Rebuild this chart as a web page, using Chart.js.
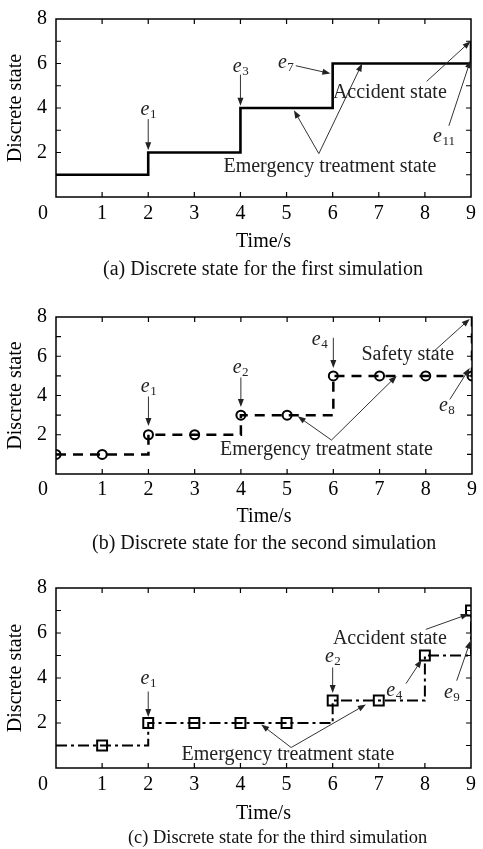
<!DOCTYPE html>
<html>
<head>
<meta charset="utf-8">
<script src="https://cdn.jsdelivr.net/npm/chart.js@4"></script>
<style>
  body { margin: 0; background: #fff; width: 483px; height: 849px; overflow: hidden; position: relative; }
  canvas { position: absolute; left: 0; }
  .cap { position: absolute; font-family: "Liberation Serif", "Times New Roman", serif; font-size: 20px; line-height: 24px; white-space: nowrap; color: #111; }
</style>
</head>
<body>
<canvas id="chartA" width="483" height="258" style="top:0px"></canvas>
<canvas id="chartB" width="483" height="235" style="top:298px"></canvas>
<canvas id="chartC" width="483" height="261" style="top:569px"></canvas>
<div class="cap" style="left:103px; top:256px">(a) Discrete state for the first simulation</div>
<div class="cap" style="left:92px; top:530px">(b) Discrete state for the second simulation</div>
<div class="cap" style="left:128px; top:825px; font-size:18.4px">(c) Discrete state for the third simulation</div>
<script>
// (a) first simulation - step path
var timeA = [0, 2, 4, 6, 9];
var stateA = [1, 2, 4, 6, 7];

// (b) second simulation
var timeB = [0, 1, 2, 3, 4, 5, 6, 7, 8, 9, 9];
var stateB = [1, 1, 2, 2, 3, 3, 5, 5, 5, 5, 8];
var markTimeB = [0, 1, 2, 3, 4, 5, 6, 7, 8, 9];
var markStateB = [1, 1, 2, 2, 3, 3, 5, 5, 5, 5];

// (c) third simulation
var timeC = [0, 1, 2, 3, 4, 5, 6, 7, 8, 9];
var stateC = [1, 1, 2, 2, 2, 2, 3, 3, 5, 7];
var markTimeC = [1, 2, 3, 4, 5, 6, 7, 8, 9];
var markStateC = [1, 2, 2, 2, 2, 3, 3, 5, 7];

var xTicks = [0, 1, 2, 3, 4, 5, 6, 7, 8, 9];
var yTicks = [0, 2, 4, 6, 8];

// annotations (text / arrows) in data units
var notesA = [
  {t: 'e', sub: '1', x: 2.0, y: 3.93},
  {t: 'e', sub: '3', x: 4.0, y: 5.86},
  {t: 'e', sub: '7', x: 4.98, y: 6.05},
  {t: 'Accident state', x: 7.24, y: 4.7},
  {t: 'e', sub: '11', x: 8.41, y: 2.72},
  {t: 'Emergency treatment state', x: 5.94, y: 1.35}
];
var arrowsA = [
  [2.0, 3.5, 2.0, 2.1],
  [4.0, 5.5, 4.0, 4.1],
  [5.2, 5.9, 5.95, 5.55],
  [8.04, 5.2, 8.99, 7.0],
  [8.52, 3.2, 8.99, 6.15],
  [5.7, 1.95, 5.16, 3.9],
  [5.7, 1.95, 6.64, 6.0]
];
var notesB = [
  {t: 'e', sub: '1', x: 2.0, y: 4.43},
  {t: 'e', sub: '2', x: 3.99, y: 5.4},
  {t: 'e', sub: '4', x: 5.7, y: 6.84},
  {t: 'Safety state', x: 7.61, y: 6.07},
  {t: 'e', sub: '8', x: 8.45, y: 3.47},
  {t: 'Emergency treatment state', x: 5.85, y: 1.25}
];
var arrowsB = [
  [2.0, 3.95, 2.0, 2.45],
  [4.0, 4.92, 4.0, 3.42],
  [6.0, 6.94, 6.0, 5.4],
  [8.15, 6.2, 8.95, 7.9],
  [8.52, 3.8, 8.95, 5.4],
  [5.96, 1.73, 5.23, 2.94],
  [5.96, 1.73, 7.37, 5.0]
];
var notesC = [
  {t: 'e', sub: '1', x: 2.0, y: 3.96},
  {t: 'e', sub: '2', x: 6.0, y: 4.94},
  {t: 'Accident state', x: 7.24, y: 5.74},
  {t: 'e', sub: '4', x: 7.33, y: 3.45},
  {t: 'e', sub: '9', x: 8.58, y: 3.33},
  {t: 'Emergency treatment state', x: 5.03, y: 0.57}
];
var arrowsC = [
  [2.0, 3.4, 2.0, 2.27],
  [6.0, 4.47, 6.0, 3.33],
  [8.02, 6.16, 8.95, 6.84],
  [7.59, 3.75, 7.93, 4.81],
  [8.69, 3.88, 8.99, 5.66],
  [5.1, 0.91, 4.45, 1.93],
  [5.1, 0.91, 6.72, 2.82]
];

var FONT = '"Liberation Serif", "Times New Roman", serif';
Chart.defaults.font.family = FONT;
Chart.defaults.font.size = 20;
Chart.defaults.color = '#000';

function pts(xs, ys) {
  return xs.map(function(v, i) { return {x: v, y: ys[i]}; });
}

function drawArrow(ctx, x1, y1, x2, y2) {
  var ang = Math.atan2(y2 - y1, x2 - x1);
  var L = 8, W = 3;
  ctx.beginPath();
  ctx.moveTo(x1, y1);
  ctx.lineTo(x2 - Math.cos(ang) * L * 0.7, y2 - Math.sin(ang) * L * 0.7);
  ctx.stroke();
  ctx.beginPath();
  ctx.moveTo(x2, y2);
  ctx.lineTo(x2 - L * Math.cos(ang) + W * Math.sin(ang), y2 - L * Math.sin(ang) - W * Math.cos(ang));
  ctx.lineTo(x2 - L * Math.cos(ang) - W * Math.sin(ang), y2 - L * Math.sin(ang) + W * Math.cos(ang));
  ctx.closePath();
  ctx.fill();
}

// frame, inner ticks, corner zero and the annotations
var framePlugin = {
  id: 'frame',
  afterDraw: function(chart, args, opts) {
    var ctx = chart.ctx, a = chart.chartArea;
    var xs = chart.scales.x, ys = chart.scales.y;
    ctx.save();
    ctx.strokeStyle = '#000';
    ctx.lineWidth = 1.5;
    ctx.strokeRect(a.left, a.top, a.right - a.left, a.bottom - a.top);
    ctx.lineWidth = 1.2;
    ctx.beginPath();
    xs.ticks.forEach(function(t) {
      if (t.value <= xs.min || t.value >= xs.max) return;
      var px = xs.getPixelForValue(t.value);
      ctx.moveTo(px, a.bottom); ctx.lineTo(px, a.bottom - 5);
      ctx.moveTo(px, a.top); ctx.lineTo(px, a.top + 5);
    });
    ys.ticks.forEach(function(t) {
      if (t.value <= ys.min || t.value >= ys.max) return;
      var py = ys.getPixelForValue(t.value);
      ctx.moveTo(a.left, py); ctx.lineTo(a.left + 5, py);
      ctx.moveTo(a.right, py); ctx.lineTo(a.right - 5, py);
    });
    ctx.stroke();

    ctx.fillStyle = '#000';
    ctx.font = '20px ' + FONT;
    ctx.textAlign = 'center';
    ctx.textBaseline = 'middle';
    ctx.fillText('0', xs.getPixelForValue(0) - 13, a.bottom + opts.tickPad + 10);

    ctx.strokeStyle = '#333';
    ctx.fillStyle = '#222';
    ctx.lineWidth = 1;
    (opts.arrows || []).forEach(function(r) {
      drawArrow(ctx, xs.getPixelForValue(r[0]), ys.getPixelForValue(r[1]),
                xs.getPixelForValue(r[2]), ys.getPixelForValue(r[3]));
    });

    (opts.notes || []).forEach(function(n) {
      var px = xs.getPixelForValue(n.x), py = ys.getPixelForValue(n.y);
      if (n.sub) {
        ctx.font = 'italic 20px ' + FONT;
        var we = ctx.measureText(n.t).width;
        ctx.font = '13px ' + FONT;
        var wsub = ctx.measureText(n.sub).width;
        var x0 = px - (we + wsub) / 2;
        ctx.textAlign = 'left';
        ctx.font = 'italic 20px ' + FONT;
        ctx.fillText(n.t, x0, py);
        ctx.font = '13px ' + FONT;
        ctx.fillText(n.sub, x0 + we + 0.5, py + 5);
      } else {
        ctx.textAlign = 'center';
        ctx.font = '20px ' + FONT;
        ctx.fillText(n.t, px, py);
      }
    });
    ctx.restore();
  }
};

function makeChart(id, datasets, notes, arrows, tickPad, axisH) {
  return new Chart(document.getElementById(id), {
    type: 'line',
    data: { datasets: datasets },
    plugins: [framePlugin],
    options: {
      responsive: false,
      animation: false,
      layout: { padding: { top: 10, right: 10, left: 0, bottom: 0 } },
      plugins: {
        legend: { display: false },
        tooltip: { enabled: false },
        frame: { notes: notes, arrows: arrows, tickPad: tickPad }
      },
      scales: {
        x: {
          type: 'linear', min: 0, max: 9,
          afterBuildTicks: function(s) { s.ticks = xTicks.map(function(v) { return {value: v}; }); },
          afterFit: function(s) { s.height = axisH; },
          grid: { display: false, drawTicks: false },
          border: { display: false },
          ticks: {
            autoSkip: false, maxRotation: 0, padding: tickPad,
            font: { size: 20, lineHeight: 1 },
            callback: function(v) { return v === 0 ? '' : v; }
          },
          title: { display: true, text: 'Time/s', font: { size: 20 }, padding: { top: 0, bottom: 4 } }
        },
        y: {
          type: 'linear', min: 0, max: 8,
          ticks: {
            stepSize: 1, autoSkip: false, padding: 9,
            font: { size: 20, lineHeight: 1 },
            callback: function(v) { return (v > 0 && yTicks.indexOf(v) >= 0) ? v : ''; }
          },
          afterFit: function(s) { s.width = 56; },
          grid: { display: false, drawTicks: false },
          border: { display: false },
          title: { display: true, text: 'Discrete state', font: { size: 20 }, padding: { top: 4, bottom: 0 } }
        }
      }
    }
  });
}

makeChart('chartA', [{
  data: pts(timeA, stateA),
  stepped: 'before',
  borderColor: '#000', borderWidth: 2.6,
  pointRadius: 0, fill: false
}], notesA, arrowsA, 7, 61);

makeChart('chartB', [{
  data: pts(timeB, stateB),
  stepped: 'before',
  borderColor: '#000', borderWidth: 2.5, borderDash: [10, 7],
  pointRadius: 0, fill: false
}, {
  data: pts(markTimeB, markStateB),
  showLine: false, clip: 0,
  pointStyle: 'circle', pointRadius: 4.5,
  pointBorderColor: '#000', pointBackgroundColor: '#fff', pointBorderWidth: 2
}], notesB, arrowsB, 6, 59);

makeChart('chartC', [{
  data: pts(timeC, stateC),
  stepped: 'before',
  borderColor: '#000', borderWidth: 2, borderDash: [11, 4, 3, 4],
  pointRadius: 0, fill: false
}, {
  data: pts(markTimeC, markStateC),
  showLine: false, clip: 0,
  pointStyle: 'rect', pointRadius: 7,
  pointBorderColor: '#000', pointBackgroundColor: '#fff', pointBorderWidth: 2
}], notesC, arrowsC, 7, 62);
</script>
</body>
</html>
